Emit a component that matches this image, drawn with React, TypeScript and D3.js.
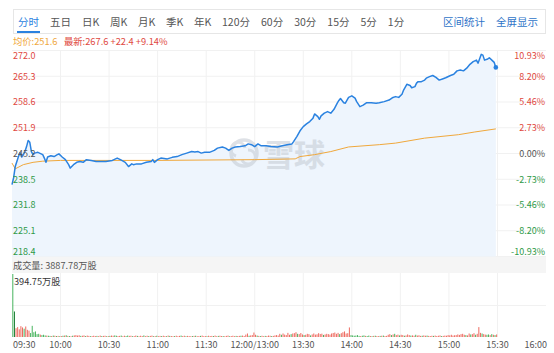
import React from "react";
import * as d3 from "d3";

const tabLabels = ["分时", "五日", "日K", "周K", "月K", "季K", "年K", "120分", "60分", "30分", "15分", "5分", "1分"];
const linkLabels = ["区间统计", "全屏显示"];
const avgLabel = "均价:251.6";
const latestLabel = "最新:267.6 +22.4 +9.14%";
const volTotalLabel = "成交量: 3887.78万股";
const volMaxLabel = "394.75万股";
const watermark = "雪球";

const prevClose = 245.2;
const priceTicks = [272.0, 265.3, 258.6, 251.9, 245.2, 238.5, 231.8, 225.1, 218.4];
const pctTicks = ["10.93%", "8.20%", "5.46%", "2.73%", "0.00%", "-2.73%", "-5.46%", "-8.20%", "-10.93%"];
const timeLabels = ["09:30", "10:00", "10:30", "11:00", "11:30", "12:00/13:00", "13:30", "14:00", "14:30", "15:00", "15:30", "16:00"];
const totalMinutes = 330;
const volMax = 394.75;

// trading-minute index since 09:30 (lunch removed) and price
const priceMinutes = [0, 1, 2, 4, 5, 6, 7, 8, 9, 10, 11, 12, 13, 14, 16, 17, 19, 20, 21, 22, 24, 26, 28, 29, 31, 33, 35, 36, 38, 40, 42, 44, 46, 49, 52, 55, 58, 62, 65, 67, 70, 72, 74, 75, 77, 80, 83, 86, 87, 88, 90, 92, 96, 99, 102, 105, 108, 111, 113, 115, 117, 119, 122, 125, 127, 130, 132, 134, 136, 138, 141, 144, 146, 148, 150, 152, 154, 157, 160, 164, 167, 170, 173, 174, 176, 178, 180, 182, 184, 186, 187, 189, 190, 191, 193, 195, 197, 199, 201, 202, 203, 205, 206, 208, 210, 212, 213, 215, 217, 219, 222, 225, 227, 230, 233, 235, 237, 239, 241, 242, 244, 246, 247, 249, 250, 251, 253, 255, 256, 258, 260, 262, 264, 266, 268, 271, 273, 275, 277, 279, 281, 283, 285, 287, 288, 290, 291, 292, 294, 295, 297, 298, 299];
const prices = [237.1, 238.9, 241.8, 244.4, 245.4, 244.3, 244.9, 245.7, 247.0, 248.6, 248.1, 245.7, 244.9, 245.3, 245.5, 245.3, 244.9, 244.0, 242.9, 244.3, 244.6, 244.4, 244.9, 245.1, 244.3, 243.6, 242.3, 241.4, 242.3, 242.9, 243.1, 242.9, 243.6, 243.4, 243.1, 243.1, 243.1, 243.4, 244.0, 243.6, 242.9, 241.8, 242.5, 242.3, 242.5, 242.5, 242.9, 243.1, 243.6, 242.9, 243.6, 244.0, 243.8, 244.2, 244.4, 244.9, 245.3, 245.7, 245.6, 245.7, 245.3, 245.5, 245.5, 246.0, 246.6, 246.9, 246.6, 246.0, 246.6, 246.9, 247.0, 247.2, 247.7, 247.5, 247.0, 247.7, 247.2, 247.2, 247.0, 246.9, 247.2, 247.5, 247.7, 248.3, 249.6, 251.1, 252.2, 252.9, 253.5, 254.4, 255.5, 254.8, 254.1, 255.0, 255.7, 256.1, 255.7, 256.7, 258.3, 259.0, 259.5, 258.4, 258.3, 259.8, 260.2, 259.6, 258.7, 257.4, 257.8, 258.4, 258.4, 258.3, 258.4, 258.7, 259.1, 259.7, 260.0, 259.8, 260.6, 261.7, 263.2, 262.9, 262.3, 262.6, 263.5, 263.9, 263.9, 264.3, 264.8, 265.2, 265.5, 265.0, 264.3, 264.6, 264.9, 265.5, 265.8, 266.7, 266.9, 266.7, 267.4, 268.4, 269.1, 269.5, 268.7, 271.0, 270.8, 269.5, 269.8, 270.1, 269.3, 268.9, 267.6];

const avgMinutes = [0, 2, 7, 13, 19, 30, 90, 150, 175, 178, 187, 197, 208, 227, 237, 255, 276, 286, 299];
const avgPrices = [242.7, 241.2, 242.3, 242.9, 243.2, 243.4, 243.4, 243.6, 243.8, 244.4, 244.9, 245.7, 246.9, 247.5, 247.9, 249.2, 250.1, 250.8, 251.6];

// volume per minute in 万股; positive = up minute (red), negative = down minute (green)
const volumes = [
  -394.75, -160, 55, 62, 48, 68, 60, -52, 66, 45,
  40, -25, -70, -30, -35, -18, -20, 15, -12, -14,
  -10, 9, -8, -7, 6, -9, 8, -6, 7, -5,
  6, -8, 9, -11, 7, -6, 5, -8, 10, 12,
  9, 11, -7, 8, 10, -6, 9, 7, -5, 6,
  8, 6, -7, 5, 9, -6, 7, 8, -5, 6,
  -7, 9, 8, -10, -8, 6, 7, -9, 5, 8,
  -6, -9, 7, 8, -5, 6, 9, -7, 5, 8,
  6, -10, 5, 8, -6, 7, 9, -5, 6, -8,
  5, 7, -6, 8, 6, -5, 9, -7, 6, 5,
  -6, 8, 5, 7, -9, 6, 8, -5, 7, 6,
  5, -6, 7, -8, 5, 6, -7, 9, 5, 6,
  -5, 8, 6, 7, -6, 9, 5, -7, 8, 6,
  -6, 5, 7, 9, -5, 6, 8, 5, -7, 6,
  7, -8, 9, 6, 15, 22, -8, 10, 12, 28,
  14, -9, 7, -6, 8, 5, -7, 6, 9, 8,
  -6, 7, 10, 12, 9, 20, -14, 22, 15, 12,
  26, 14, -18, 22, 24, 30, -20, 18, 25, 16,
  -12, 14, 20, 18, -10, 16, 22, 15, 17, 24,
  19, 21, -13, 16, 20, 18, 15, 22, 25, 28,
  20, 26, -18, 24, 30, 35, 22, 24, 60, -12,
  -10, -8, -9, -12, -7, 6, -8, -10, 7, -6,
  -9, 6, -5, 7, -8, 6, 5, -7, 8, -9,
  6, 7, 14, 18, -12, 16, -20, 12, 15, -10,
  14, 12, -8, 10, 16, 12, -9, 10, 8, -14,
  9, 11, 7, -8, 10, 8, -9, 7, 6, 8,
  -7, 9, 6, 8, 10, -6, 7, 9, 8, 12,
  10, 14, 9, 11, 12, 16, 13, 18, 20, 14,
  -12, 10, 22, -16, 18, 24, -14, 20, 62, 26,
  -22, 18, 15, -14, -16, 12, -18, 14, -12, 16,
];

const FONT = "'Noto Sans CJK SC', 'Noto Sans', sans-serif";
const RED = "#e0483e";
const GREEN = "#2f9a48";
const BLUE = "#2a82e0";
const ORANGE = "#f0a83c";

function textWidth(s: string, fs: number) {
  let w = 0;
  for (const ch of s) {
    if (/[\u4e00-\u9fff]/.test(ch)) w += fs;
    else if (ch === "K") w += fs * 0.62;
    else w += fs * 0.555;
  }
  return w;
}

export default function App() {
  const W = 554, H = 353;
  const left = 12, right = 546;
  const top = 50.5, bottom = 256.5;
  const volTop = 274, volBottom = 337;

  const x = d3.scaleLinear().domain([0, totalMinutes]).range([left, right]);
  const y = d3.scaleLinear().domain([priceTicks[priceTicks.length - 1], priceTicks[0]]).range([bottom, top]);
  const yv = d3.scaleLinear().domain([0, volMax]).range([volBottom, volTop]);

  const pts = priceMinutes.map((m, i) => [m, prices[i]] as [number, number]);
  const avgPts = avgMinutes.map((m, i) => [m, avgPrices[i]] as [number, number]);
  const line = d3.line<[number, number]>().x(d => x(d[0])).y(d => y(d[1]));
  const area = d3.area<[number, number]>().x(d => x(d[0])).y0(bottom).y1(d => y(d[1]));
  const last = pts[pts.length - 1];

  // tab layout
  const tabFs = 10.5;
  let cx = 18;
  const tabPos = tabLabels.map(t => {
    const p = cx;
    cx += textWidth(t, tabFs) + 11;
    return p;
  });

  const timeTicks = timeLabels.map((_, i) => i * 30);
  const labelColor = (v: number) => (v > prevClose ? RED : v < prevClose ? GREEN : "#555");

  return (
    <svg width={W} height={H} style={{ position: "absolute", left: 0, top: 0, background: "#fff" }} fontFamily={FONT}>
      {/* tab bar */}
      <rect x={13.5} y={9.5} width={532} height={24} fill="#fff" stroke="#e6e6e6" />
      {tabLabels.map((t, i) => (
        <text key={t} x={tabPos[i]} y={26} fontSize={tabFs} fill={i === 0 ? BLUE : "#555"}>{t}</text>
      ))}
      <rect x={17} y={31} width={23} height={2} fill={BLUE} />
      <text x={443} y={26} fontSize={tabFs} fill="#2f74c8">{linkLabels[0]}</text>
      <text x={496} y={26} fontSize={tabFs} fill="#2f74c8">{linkLabels[1]}</text>

      {/* info line */}
      <text x={13} y={45} fontSize={9.3} fill={ORANGE}>{avgLabel}</text>
      <text x={64} y={45} fontSize={9.3} fill={RED}>{latestLabel}</text>

      {/* price grid */}
      {priceTicks.map((v, i) => (
        <line key={"h" + i} x1={left} x2={right} y1={y(v)} y2={y(v)} stroke="#f1f1f1" />
      ))}
      {timeTicks.slice(1, -1).map(t => (
        <line key={"v" + t} x1={x(t)} x2={x(t)} y1={top} y2={bottom} stroke="#f1f1f1" />
      ))}

      {/* area fill */}
      <path d={area(pts) || ""} fill="#eef5fd" />

      {/* watermark */}
      <g opacity={0.55}>
        <circle cx={244} cy={153} r={13} fill="none" stroke="#c4cad3" strokeWidth={3.5} />
        <path d="M236,156 a7,7 0 1,1 9,-8 M248,150 a7,7 0 1,1 -6,10" fill="none" stroke="#c4cad3" strokeWidth={3} />
        <text x={263} y={166} fontSize={31} fontWeight={700} fill="#c4cad3">{watermark}</text>
      </g>

      {/* avg and price lines */}
      <path d={line(avgPts) || ""} fill="none" stroke={ORANGE} strokeWidth={1} />
      <path d={line(pts) || ""} fill="none" stroke={BLUE} strokeWidth={1.5} strokeLinejoin="round" />
      <circle cx={x(last[0])} cy={y(last[1])} r={2.3} fill={BLUE} />

      {/* price axis labels */}
      {priceTicks.map((v, i) => {
        const yy = i === 0 ? y(v) + 8.2 : i === priceTicks.length - 1 ? y(v) - 1.5 : y(v) + 3.3;
        return (
          <g key={"l" + i}>
            <text x={13} y={yy} fontSize={9} fill={labelColor(v)}>{v.toFixed(1)}</text>
            <text x={545} y={yy} fontSize={9} textAnchor="end" fill={labelColor(v)}>{pctTicks[i]}</text>
          </g>
        );
      })}

      {/* volume header */}
      <rect x={left} y={257} width={right - left} height={16} fill="#f5f5f5" />
      <text x={13} y={269} fontSize={9.2} fill="#555">{volTotalLabel}</text>

      {/* volume grid */}
      <line x1={left} x2={right} y1={(volTop + volBottom) / 2} y2={(volTop + volBottom) / 2} stroke="#f1f1f1" />
      {timeTicks.slice(1, -1).map(t => (
        <line key={"vv" + t} x1={x(t)} x2={x(t)} y1={volTop - 1} y2={volBottom} stroke="#f1f1f1" />
      ))}
      {volumes.map((v, i) => (
        <rect
          key={"b" + i}
          x={x(i) + 0.3}
          y={yv(Math.abs(v))}
          width={1}
          height={volBottom - yv(Math.abs(v))}
          fill={i === 1 ? "#137a2c" : v >= 0 ? "#ee6b60" : "#48b45f"}
        />
      ))}
      <text x={14} y={285} fontSize={9.2} fill="#333">{volMaxLabel}</text>

      {/* time labels */}
      {timeLabels.map((t, i) => (
        <text
          key={t}
          x={i === 0 ? 13 : i === timeLabels.length - 1 ? 547 : x(timeTicks[i])}
          y={348}
          fontSize={9}
          fill="#555"
          textAnchor={i === 0 ? "start" : i === timeLabels.length - 1 ? "end" : "middle"}
        >
          {t}
        </text>
      ))}
    </svg>
  );
}
